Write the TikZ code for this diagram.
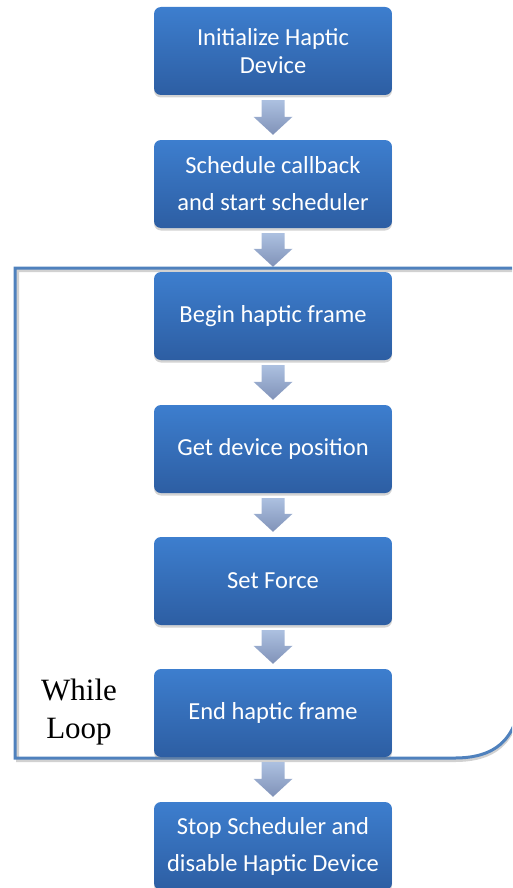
\documentclass[tikz,border=0pt]{standalone}
\usepackage{fontspec}
\setmainfont{Liberation Serif}
\newfontfamily\boxfont{Carlito}
\usetikzlibrary{calc,shadows}

\definecolor{boxtop}{RGB}{61,126,206}
\definecolor{boxbot}{RGB}{45,94,163}
\definecolor{arrtop}{RGB}{172,192,224}
\definecolor{arrbot}{RGB}{128,146,184}
\definecolor{loopblue}{RGB}{79,129,189}

\tikzset{
  stepbox/.style={
    rounded corners=7pt, minimum width=238pt, minimum height=88pt,
    top color=boxtop, bottom color=boxbot, draw=none,
    drop shadow={opacity=0.35, shadow xshift=0pt, shadow yshift=-2.5pt},
    text=white, align=center, font=\boxfont\fontsize{24.5}{27.5}\selectfont,
    inner sep=4pt},
  widelines/.style={font=\boxfont\fontsize{24.5}{37}\selectfont},
  arrowfill/.style={top color=arrtop, bottom color=arrbot, draw=none},
  loopline/.style={draw=loopblue, line width=3pt},
  loopshade/.style={draw=black!18, line width=3pt},
  looplabel/.style={align=center, font=\fontsize{31}{38}\selectfont}
}

% thick block arrow from the bottom of #1 to the top of #2
\newcommand\blockarrow[2]{%
  \path[arrowfill] let \p1=(#1.south), \p2=(#2.north) in
    (\x1-11.5pt,\y1-5pt) -- (\x1+11.5pt,\y1-5pt) -- (\x1+11.5pt,\y2+23pt)
    -- (\x1+19.5pt,\y2+23pt) -- (\x1,\y2+5pt) -- (\x1-19.5pt,\y2+23pt)
    -- (\x1-11.5pt,\y2+23pt) -- cycle;}

\begin{document}
\begin{tikzpicture}[x=1pt,y=-1pt]
\useasboundingbox (0,0) rectangle (512,888);
\clip (0,0) rectangle (512,888);

% loop frame
\draw[loopshade] (512,270.5) -- (17.5,270.5) -- (17.5,760.5) -- (455,760.5)
  .. controls (488,760.5) and (505,748) .. (514,728);
\draw[loopline] (512,268) -- (15,268) -- (15,758) -- (455,758)
  .. controls (488,758) and (505,745.5) .. (514,725.5);

\node[stepbox] (init) at (273,51) {Initialize Haptic\\Device};
\node[stepbox,widelines] (sched) at (273,184) {Schedule callback\\and start scheduler};
\node[stepbox] (begin) at (273,316) {Begin haptic frame};
\node[stepbox] (getpos) at (273,449) {Get device position};
\node[stepbox] (force) at (273,581) {Set Force};
\node[stepbox] (endf) at (273,713) {End haptic frame};
\node[stepbox,widelines] (stop) at (273,846) {Stop Scheduler and\\disable Haptic Device};

\blockarrow{init}{sched}
\blockarrow{sched}{begin}
\blockarrow{begin}{getpos}
\blockarrow{getpos}{force}
\blockarrow{force}{endf}
\blockarrow{endf}{stop}

\node[looplabel] (while) at (79,712) {While\\Loop};
\end{tikzpicture}
\end{document}
